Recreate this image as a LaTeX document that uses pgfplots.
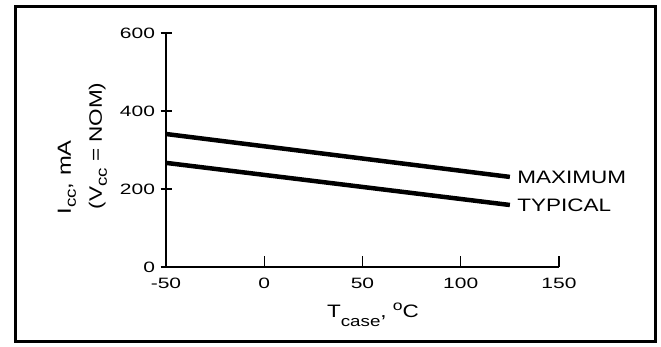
\documentclass[border=0pt]{standalone}
\usepackage{pgfplots}
\pgfplotsset{compat=1.18}
\usepackage{fontspec}
\setmainfont{Liberation Sans}
\newfontfamily\tickfont{Liberation Sans}[FakeStretch=1.4]
\newfontfamily\lblfont{Liberation Sans}[FakeStretch=1.25]
\newcommand\lowsub[2]{\raisebox{#1}{\fontsize{15}{15}\selectfont #2}}
\begin{document}
\begin{tikzpicture}
\useasboundingbox (0pt,0pt) rectangle (661pt,346pt);
\fill[white] (0pt,0pt) rectangle (661pt,346pt);
\draw[line width=3pt] (15pt,4.5pt) rectangle (655pt,339.5pt);
\begin{axis}[
  at={(166pt,79pt)}, anchor=south west,
  scale only axis, width=393pt, height=234pt,
  xmin=-50, xmax=150, ymin=0, ymax=600,
  axis x line=bottom, axis y line=left,
  axis line style={-, line width=1.6pt},
  xtick={-50,0,50,100,150},
  xticklabels={-50,0,50,100,150},
  ytick={0,200,400,600},
  xtick align=inside, ytick align=center,
  x tick style={line width=1.2pt, black},
  y tick style={line width=1.2pt, black},
  major tick length=11pt,
  /pgf/number format/assume math mode=true,
  tick label style={font=\tickfont\fontsize{15}{17}\selectfont},
  xticklabel style={yshift=-7pt},
  yticklabel style={xshift=-2pt},
  clip=false,
]
\addplot[black, line width=4.5pt, line cap=butt] coordinates {(-50,341) (125,231)}
  node[pos=1, anchor=west, xshift=2pt, font=\lblfont\fontsize{18}{20}\selectfont] {MAXIMUM};
\addplot[black, line width=4.5pt, line cap=butt] coordinates {(-50,267) (125,159)}
  node[pos=1, anchor=west, xshift=2pt, font=\lblfont\fontsize{18}{20}\selectfont] {TYPICAL};
\end{axis}
\node[rotate=90, anchor=west, font=\lblfont\fontsize{19}{21}\selectfont] at (67pt,128pt) {I\lowsub{-5pt}{cc}, mA};
\node[rotate=90, anchor=west, font=\lblfont\fontsize{18}{20}\selectfont] at (98pt,133pt) {(V\lowsub{-5pt}{cc} = NOM)};
\node[anchor=base, font=\lblfont\fontsize{18}{20}\selectfont] at (373pt,29pt) {T\lowsub{-9pt}{case}, \raisebox{7pt}{\fontsize{14}{14}\selectfont o}C};
\end{tikzpicture}
\end{document}
